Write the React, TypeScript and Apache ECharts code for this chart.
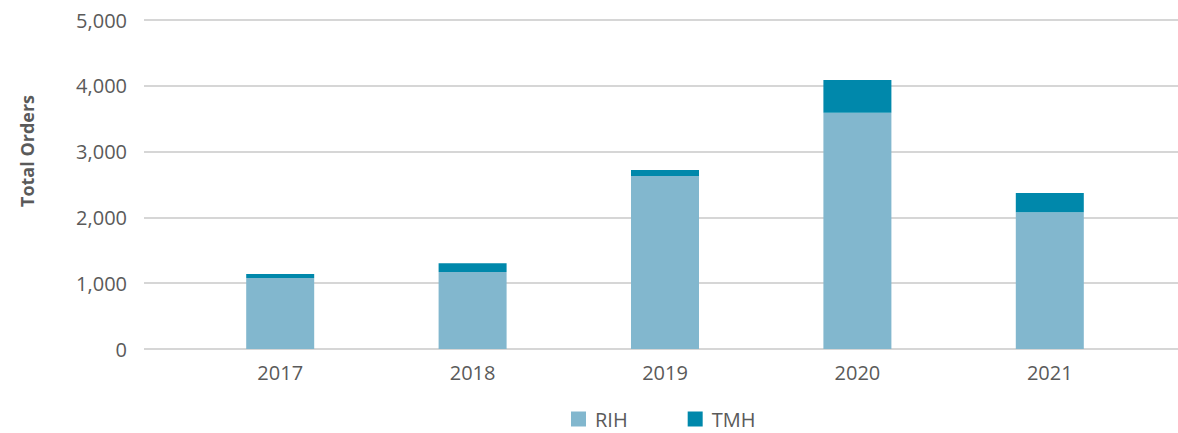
import React, { useEffect, useRef } from "react";
import * as echarts from "echarts";

const years = ["2017", "2018", "2019", "2020", "2021"];
const rih = [1080, 1170, 2630, 3590, 2080];
const tmh = [60, 135, 90, 500, 290];
const yTicks = [0, 1000, 2000, 3000, 4000, 5000];

const FONT = "'Open Sans', 'Noto Sans', sans-serif";
const TXT = "#5a5a5a";

export default function App() {
  const ref = useRef<HTMLDivElement>(null);
  useEffect(() => {
    if (!ref.current) return;
    const chart = echarts.init(ref.current, undefined, { renderer: "svg" });
    const yMax = yTicks[yTicks.length - 1];
    const step = yTicks[1] - yTicks[0];
    chart.setOption({
      animation: false,
      textStyle: { fontFamily: FONT },
      grid: [
        { left: 144, right: 0, top: 20, bottom: 84 },
        { left: 184, right: 32, top: 20, bottom: 84 },
      ],
      xAxis: [
        { gridIndex: 0, type: "value", show: false, min: 0, max: 1 },
        {
          gridIndex: 1,
          type: "category",
          data: years,
          axisLine: { show: false },
          axisTick: { show: false },
          axisLabel: { color: TXT, fontSize: 20, margin: 13, fontFamily: FONT },
        },
      ],
      yAxis: [
        {
          gridIndex: 0,
          type: "value",
          min: 0,
          max: yMax,
          interval: step,
          axisLine: { show: false },
          axisTick: { show: false },
          axisLabel: {
            color: TXT,
            fontSize: 20,
            margin: 17,
            fontFamily: FONT,
            formatter: (v: number) => v.toLocaleString("en-US"),
          },
          splitLine: { lineStyle: { color: "#c8c8c8", width: 1.5 } },
        },
        { gridIndex: 1, type: "value", min: 0, max: yMax, interval: step, show: false },
      ],
      legend: {
        left: 566,
        top: 404,
        itemWidth: 15,
        itemHeight: 15,
        itemGap: 60,
        icon: "rect",
        textStyle: { color: TXT, fontSize: 20, fontFamily: FONT, padding: [0, 0, 0, 4] },
        data: ["RIH", "TMH"],
      },
      graphic: [
        {
          type: "text",
          x: 27,
          y: 151,
          rotation: Math.PI / 2,
          style: {
            text: "Total Orders",
            fill: TXT,
            font: `bold 18px ${FONT}`,
            align: "center",
            verticalAlign: "middle",
          },
        },
      ],
      series: [
        {
          name: "RIH",
          type: "bar",
          stack: "total",
          xAxisIndex: 1,
          yAxisIndex: 1,
          barWidth: 68,
          itemStyle: { color: "#82b7ce" },
          data: rih,
        },
        {
          name: "TMH",
          type: "bar",
          stack: "total",
          xAxisIndex: 1,
          yAxisIndex: 1,
          barWidth: 68,
          itemStyle: { color: "#0088ab" },
          data: tmh,
        },
      ],
    });
    return () => chart.dispose();
  }, []);
  return <div ref={ref} style={{ width: 1178, height: 433, position: "absolute", left: 0, top: 0 }} />;
}
